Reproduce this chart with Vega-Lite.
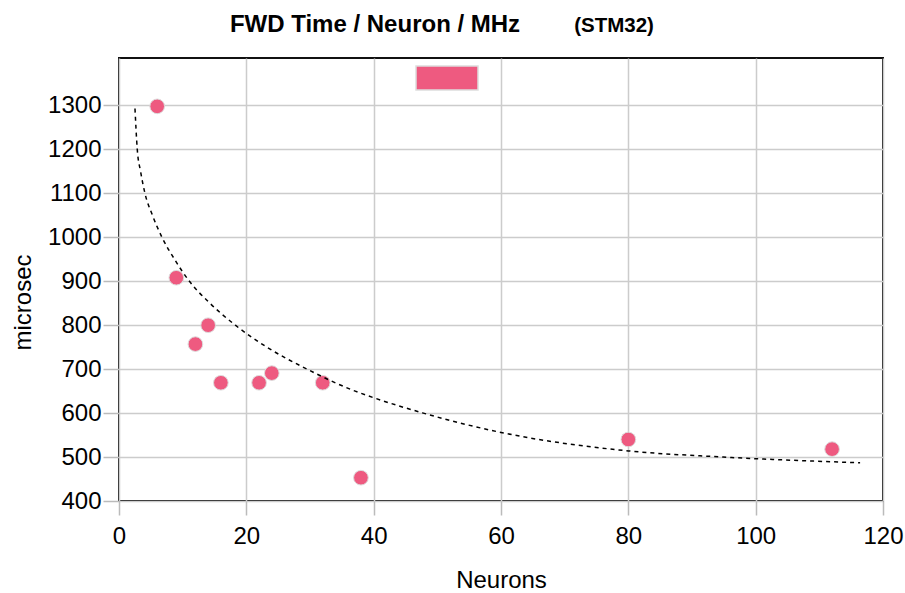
{
  "$schema": "https://vega.github.io/schema/vega-lite/v6.json",
  "width": 764,
  "height": 443,
  "autosize": {"type": "none"},
  "padding": {"left": 119, "top": 58, "right": 22, "bottom": 92},
  "background": "white",
  "config": {
    "font": "Liberation Sans",
    "view": {"stroke": "#111111", "strokeWidth": 2}
  },
  "resolve": {"axis": {"x": "independent", "y": "independent"}},
  "layer": [
    {
      "data": {
        "values": [
          {"neurons": 6, "time": 1298, "series": "FWD"},
          {"neurons": 9, "time": 908, "series": "FWD"},
          {"neurons": 12, "time": 757, "series": "FWD"},
          {"neurons": 14, "time": 800, "series": "FWD"},
          {"neurons": 16, "time": 669, "series": "FWD"},
          {"neurons": 22, "time": 669, "series": "FWD"},
          {"neurons": 24, "time": 691, "series": "FWD"},
          {"neurons": 32, "time": 669, "series": "FWD"},
          {"neurons": 38, "time": 453, "series": "FWD"},
          {"neurons": 80, "time": 540, "series": "FWD"},
          {"neurons": 112, "time": 518, "series": "FWD"}
        ]
      },
      "mark": {"type": "circle", "size": 215, "opacity": 1, "stroke": "#dddddd", "strokeWidth": 1},
      "encoding": {
        "x": {
          "field": "neurons", "type": "quantitative",
          "scale": {"domain": [0, 120], "nice": false, "zero": false},
          "axis": {
            "values": [0, 20, 40, 60, 80, 100, 120],
            "title": "Neurons",
            "titleFontSize": 24, "titleFontWeight": "normal", "titleColor": "black",
            "titleY": 86, "titleBaseline": "alphabetic",
            "labelFontSize": 24, "labelColor": "black", "labelFlush": false,
            "labelPadding": 9, "tickSize": 14, "tickColor": "#bbbbbb", "tickWidth": 1.5,
            "domain": false, "grid": true, "gridColor": "#cccccc", "gridWidth": 1.5
          }
        },
        "y": {
          "field": "time", "type": "quantitative",
          "scale": {"domain": [400, 1408], "nice": false, "zero": false},
          "axis": {
            "values": [400, 500, 600, 700, 800, 900, 1000, 1100, 1200, 1300],
            "format": "d",
            "title": "microsec",
            "titleFontSize": 24, "titleFontWeight": "normal", "titleColor": "black",
            "titleX": -89, "titleY": 244, "titleAngle": -90, "titleAlign": "center", "titleBaseline": "alphabetic",
            "labelFontSize": 24, "labelColor": "black", "labelFlush": false,
            "labelPadding": 2, "tickSize": 16, "tickColor": "#bbbbbb", "tickWidth": 1.5,
            "domain": false, "grid": true, "gridColor": "#cccccc", "gridWidth": 1.5
          }
        },
        "color": {
          "field": "series", "type": "nominal",
          "scale": {"range": ["#ee5a80"]},
          "legend": {
            "orient": "none", "legendX": 296, "legendY": -12,
            "title": null, "padding": 0,
            "symbolType": "M-1,-0.39L1,-0.39L1,0.39L-1,0.39Z",
            "symbolSize": 3844,
            "symbolOpacity": 1,
            "labelExpr": "''", "labelOffset": 0,
            "encode": {"symbols": {"update": {"stroke": {"value": "#d0d0d0"}, "strokeWidth": {"value": 2.5}, "fill": {"value": "#ee5a80"}, "opacity": {"value": 1}}}}
          }
        }
      }
    },
    {
      "data": {
        "values": [
          {"x": 2.51, "y": 1293},
          {"x": 2.87, "y": 1200},
          {"x": 3.39, "y": 1150},
          {"x": 4.08, "y": 1100},
          {"x": 5.26, "y": 1050},
          {"x": 6.75, "y": 1000},
          {"x": 8.72, "y": 950},
          {"x": 11.06, "y": 900},
          {"x": 14.28, "y": 850},
          {"x": 18.28, "y": 800},
          {"x": 23.24, "y": 750},
          {"x": 29.54, "y": 700},
          {"x": 37.1, "y": 650},
          {"x": 40, "y": 635},
          {"x": 47.8, "y": 600},
          {"x": 60, "y": 556},
          {"x": 80, "y": 514},
          {"x": 94.9, "y": 500},
          {"x": 116.4, "y": 487}
        ]
      },
      "mark": {"type": "line", "interpolate": "monotone", "color": "black", "strokeDash": [4, 4], "strokeWidth": 1.5},
      "encoding": {
        "x": {
          "field": "x", "type": "quantitative",
          "scale": {"domain": [0, 120], "nice": false, "zero": false},
          "axis": {
            "orient": "top",
            "title": "FWD Time / Neuron / MHz",
            "titleFont": "Liberation Sans", "titleFontSize": 24, "titleFontWeight": "bold", "titleColor": "black",
            "titleX": 255.5, "titleY": -26.5, "titleAlign": "center", "titleBaseline": "alphabetic", "titleAngle": 0,
            "labels": false, "ticks": false, "grid": false, "domain": false
          }
        },
        "y": {
          "field": "y", "type": "quantitative",
          "scale": {"domain": [400, 1408], "nice": false, "zero": false},
          "axis": {
            "orient": "right",
            "title": "(STM32)",
            "titleFont": "Liberation Sans", "titleFontSize": 20.5, "titleFontWeight": "bold", "titleColor": "black",
            "titleX": -269.5, "titleY": -26.5, "titleAlign": "center", "titleBaseline": "alphabetic", "titleAngle": 0,
            "labels": false, "ticks": false, "grid": false, "domain": false
          }
        }
      }
    }
  ]
}
